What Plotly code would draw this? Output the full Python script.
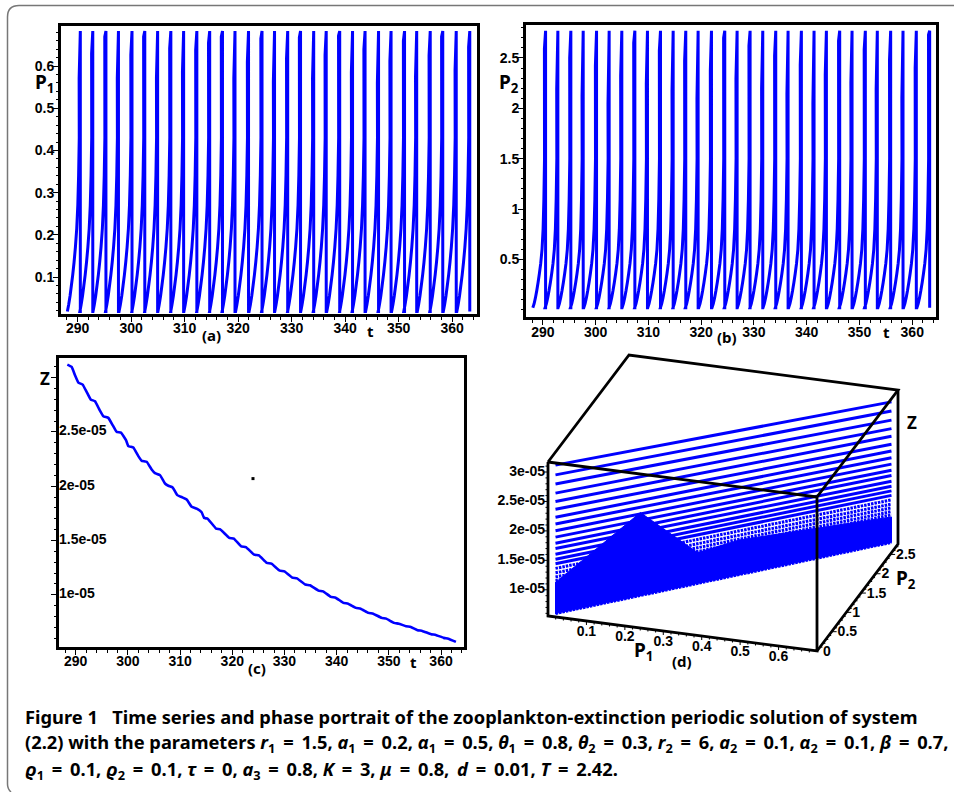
import numpy as np
import plotly.graph_objects as go

W, H = 954, 792
BLUE = "#0000ff"
TICKFONT = dict(family="Liberation Sans", size=14, color="black", weight="bold")
LABEL = "Noto Sans"

# ---- data ----
peak_t = [290.51, 292.84, 295.30, 297.64, 300.17, 302.56, 304.96, 307.43, 309.82, 312.29, 314.69,
          317.08, 319.42, 321.95, 324.47, 326.81, 329.27, 331.67, 334.13, 336.47, 338.99, 341.39,
          343.73, 346.25, 348.59, 351.11, 353.38, 355.91, 358.25, 360.77, 363.30]
# value at the last sample before each peak (the visible kink of every stripe)
p1_kink = [.571, .630, .670, .571, .626, .670, .571, .642, .587, .638, .655, .670, .571, .610, .665,
           .563, .618, .668, .571, .626, .672, .585, .640, .560, .612, .660, .575, .625, .670, .590, .645]
p2_kink = [2.59, 2.19, 2.50, 2.12, 2.42, 2.04, 2.32, 2.65, 2.24, 2.57, 2.17, 2.47, 2.09, 2.37, 2.70, 2.29,
           2.62, 2.20, 2.52, 2.14, 2.43, 2.05, 2.33, 2.67, 2.25, 2.58, 2.19, 2.48, 2.10, 2.40, 2.73]
# one period, read as time before the peak
cycle_before_peak = [2.42, 2.17, 1.92, 1.67, 1.42, 1.17, 0.92, 0.67, 0.47, 0.32, 0.20]
cycle_p1 = [0.018, 0.035, 0.055, 0.080, 0.105, 0.135, 0.170, 0.215, 0.270, 0.340, 0.430]
cycle_p2 = [0.020, 0.060, 0.120, 0.190, 0.270, 0.360, 0.460, 0.600, 0.800, 1.100, 1.500]
p1_peak, p2_peak = 0.683, 2.77

z_t = [288.40, 289.23, 289.87, 290.51, 291.34, 292.10, 292.87, 293.70, 294.53, 295.30, 296.25, 297.08,
       297.85, 298.68, 299.64, 300.08, 301.04, 302.00, 302.64, 303.60, 304.55, 305.19, 306.15, 307.11,
       307.75, 308.58, 309.47, 310.43, 311.26, 312.22, 313.18, 314.13, 314.60, 315.30, 316.90, 317.70,
       319.40, 320.30, 321.70, 322.60, 324.20, 325.10, 326.60, 327.50, 329.10, 330.00, 331.50, 332.40,
       334.00, 334.90, 336.50, 337.40, 338.90, 339.80, 341.30, 342.20, 343.70, 344.60, 346.10, 347.00,
       348.60, 349.50, 351.00, 351.90, 353.30, 354.20, 355.50, 356.40, 358.10, 359.00, 360.50, 361.40, 362.85]
z_v = [3.119, 3.098, 3.021, 2.954, 2.935, 2.868, 2.798, 2.782, 2.706, 2.644, 2.629, 2.562,
       2.500, 2.494, 2.424, 2.369, 2.356, 2.277, 2.234, 2.225, 2.154, 2.120, 2.102, 2.025,
       2.004, 1.989, 1.918, 1.897, 1.878, 1.811, 1.793, 1.760, 1.708, 1.700, 1.610, 1.602,
       1.525, 1.517, 1.447, 1.440, 1.370, 1.363, 1.294, 1.287, 1.223, 1.216, 1.159, 1.152,
       1.095, 1.088, 1.039, 1.032, 0.981, 0.974, 0.926, 0.919, 0.880, 0.873, 0.834, 0.827,
       0.788, 0.781, 0.742, 0.735, 0.711, 0.705, 0.675, 0.668, 0.638, 0.631, 0.604, 0.597, 0.567]
# Z at the start of the run and just after each peak (x 1e-5)
z_cycle = [3.119, 2.954, 2.798, 2.644, 2.500, 2.369, 2.234, 2.120, 2.004, 1.897, 1.793, 1.704, 1.605, 1.520,
           1.443, 1.366, 1.290, 1.219, 1.155, 1.091, 1.035, 0.977, 0.922, 0.876, 0.830, 0.784, 0.738, 0.708,
           0.671, 0.634, 0.600, 0.567]
# upper edge of the part of panel (d) where the trajectories merge, p1 and Z (x 1e-5)
dense_p1 = [.017, .186, .299, .383, .683, .683, .017]
dense_z = [1.12, 2.00, 1.11, 1.17, 1.00, .567, .600]
stray_t, stray_z = [323.97], [2.07]

p1_ticks = [0.1, 0.2, 0.3, 0.4, 0.5, 0.6]
p2_ticks = [0.5, 1, 1.5, 2, 2.5]
z_ticks = [1, 1.5, 2, 2.5, 3]
z_labels = ["1e-05", "1.5e-05", "2e-05", "2.5e-05", "3e-05"]
ZS = 1e-5


def px_x(v): return v / W
def px_y(v): return 1 - v / H


def series(kink, table, peak):
    xs, ys = [], []
    for tp, k in zip(peak_t, kink):
        for before, val in zip(cycle_before_peak, table):
            if val < k * 0.86:
                xs.append(tp - before); ys.append(val)
        xs += [tp - 0.22, tp, tp]
        ys += [k, peak, table[0]]
    return xs, ys


fig = go.Figure()

# panel a
x1, y1 = series(p1_kink, cycle_p1, p1_peak)
fig.add_trace(go.Scatter(x=x1, y=y1, mode="lines", line=dict(color=BLUE, width=3, simplify=False),
                         xaxis="x", yaxis="y"))
# panel b
x2, y2 = series(p2_kink, cycle_p2, p2_peak)
fig.add_trace(go.Scatter(x=x2, y=y2, mode="lines", line=dict(color=BLUE, width=3, simplify=False),
                         xaxis="x2", yaxis="y2"))
# panel c
fig.add_trace(go.Scatter(x=z_t, y=[v * ZS for v in z_v], mode="lines",
                         line=dict(color=BLUE, width=2.6, shape="spline", smoothing=0.3),
                         xaxis="x3", yaxis="y3"))
fig.add_trace(go.Scatter(x=stray_t, y=[v * ZS for v in stray_z], mode="markers",
                         marker=dict(color="black", size=3, symbol="square"), xaxis="x3", yaxis="y3"))
# tick labels of panel c sit inside the frame
fig.add_trace(go.Scatter(x=[286.8] * 4, y=[v * ZS for v in z_ticks[:4]], mode="text", text=z_labels[:4],
                         textposition="middle right", textfont=TICKFONT, xaxis="x3", yaxis="y3"))

# panel d: an oblique box projected on the page
P1R, P2R, ZR = (0.0, 0.70), (0.0, 2.77), (0.555, 3.17)
ORIGIN = np.array([548.0, 616.0])
V1, V2, V3 = np.array([269.0, 35.0]), np.array([81.0, -107.0]), np.array([0.0, -154.0])


def proj(p1, p2, z):
    s = ORIGIN + (p1 - P1R[0]) / (P1R[1] - P1R[0]) * V1 + (p2 - P2R[0]) / (P2R[1] - P2R[0]) * V2 \
        + (z - ZR[0]) / (ZR[1] - ZR[0]) * V3
    return s


def polyline(points):
    xs, ys = [], []
    for p in points:
        if p is None:
            xs.append(None); ys.append(None)
        else:
            xs.append(float(p[0])); ys.append(float(p[1]))
    return xs, ys


def traj(first, last):
    pts = []
    for k in range(first, last):
        pts.append(proj(cycle_p1[0], cycle_p2[0], z_cycle[k]))
        pts.append(proj(p1_peak, p2_peak, z_cycle[k + 1]))
        pts.append(None)
    return polyline(pts)


ratio = (p2_peak - cycle_p2[0]) / (p1_peak - cycle_p1[0])
fx, fy = polyline([proj(a, cycle_p2[0] + (a - cycle_p1[0]) * ratio, b) for a, b in zip(dense_p1, dense_z)])
fig.add_trace(go.Scatter(x=fx, y=fy, mode="lines", fill="toself", fillcolor=BLUE, line=dict(color=BLUE, width=1),
                         xaxis="x4", yaxis="y4"))
tx, ty = traj(0, 15)
fig.add_trace(go.Scatter(x=tx, y=ty, mode="lines", line=dict(color=BLUE, width=3), xaxis="x4", yaxis="y4"))
tx, ty = traj(15, 31)
fig.add_trace(go.Scatter(x=tx, y=ty, mode="lines", line=dict(color=BLUE, width=3, dash="2.5px,1px"),
                         xaxis="x4", yaxis="y4"))

c = lambda a, b, d: proj(P1R[a], P2R[b], ZR[d])
edges = [c(0, 0, 1), c(1, 0, 1), None, c(0, 0, 1), c(0, 1, 1), c(1, 1, 1), c(1, 0, 1), c(1, 0, 0), c(0, 0, 0),
         c(0, 0, 1), None, c(1, 1, 1), c(1, 1, 0), c(1, 0, 0)]
ex, ey = polyline(edges)
fig.add_trace(go.Scatter(x=ex, y=ey, mode="lines", line=dict(color="black", width=2.8), xaxis="x4", yaxis="y4"))

tick_pts = []
for v in np.arange(0.02, 0.70, 0.02):
    a = proj(v, P2R[0], ZR[0])
    L = 4 if abs(v * 10 - round(v * 10)) < 1e-6 else 2.5
    tick_pts += [a, a + np.array([0, L]), None]
for v in np.arange(0.1, 2.75, 0.1):
    a = proj(P1R[1], v, ZR[0])
    L = 5 if abs(v * 2 - round(v * 2)) < 1e-6 else 2.5
    tick_pts += [a, a + np.array([L, 0]), None]
for v in np.arange(0.6, 3.15, 0.1):
    a = proj(P1R[0], P2R[0], v)
    L = 4 if abs(v * 2 - round(v * 2)) < 1e-6 else 2.5
    tick_pts += [a, a - np.array([L, 0]), None]
kx, ky = polyline(tick_pts)
fig.add_trace(go.Scatter(x=kx, y=ky, mode="lines", line=dict(color="black", width=1), xaxis="x4", yaxis="y4"))


def text_trace(points, labels, position):
    xs, ys = polyline(points)
    fig.add_trace(go.Scatter(x=xs, y=ys, mode="text", text=labels, textposition=position,
                             textfont=TICKFONT, xaxis="x4", yaxis="y4"))


text_trace([proj(P1R[0], P2R[0], v) + np.array([-3, 0]) for v in z_ticks], z_labels, "middle left")
text_trace([proj(v, P2R[0], ZR[0]) + np.array([0, 4]) for v in p1_ticks], [str(v) for v in p1_ticks], "bottom center")
text_trace([proj(P1R[1], v, ZR[0]) + np.array([6, 1]) for v in [0] + p2_ticks],
           [str(v) for v in [0] + p2_ticks], "middle right")


def axis_common(domain, rng, dtick, tick0, minor, **kw):
    return dict(domain=domain, range=rng, dtick=dtick, tick0=tick0, showgrid=False, zeroline=False, showline=True,
                linecolor="black", linewidth=3, mirror=True, ticks="outside", ticklen=5, tickwidth=1,
                tickcolor="black", tickfont=TICKFONT,
                minor=dict(dtick=minor, tick0=tick0, ticks="outside", ticklen=2.5, tickwidth=1, tickcolor="black",
                           showgrid=False), **kw)


def dom_x(a, b): return [px_x(a), px_x(b)]
def dom_y(top, bottom): return [px_y(bottom), px_y(top)]


layout = dict(
    width=W, height=H, autosize=False, margin=dict(l=0, r=0, t=0, b=0), showlegend=False,
    paper_bgcolor="white", plot_bgcolor="rgba(0,0,0,0)",
    xaxis=axis_common(dom_x(61, 477), [286.9, 364.65], 10, 290, 2, anchor="y", ticklabelstandoff=-6),
    yaxis=axis_common(dom_y(26, 314), [0.0123, 0.695], 0.1, 0.1, 0.02, anchor="x", ticklabelstandoff=-4),
    xaxis2=axis_common(dom_x(526, 936), [286.8, 364.5], 10, 290, 2, anchor="y2", ticklabelstandoff=-5),
    yaxis2=axis_common(dom_y(25, 317), [-0.072, 2.827], 0.5, 0.5, 0.1, anchor="x2", ticklabelstandoff=-4),
    xaxis3=axis_common(dom_x(59, 464), [286.8, 364.4], 10, 290, 2, anchor="y3", ticklabelstandoff=-6),
    yaxis3=dict(axis_common(dom_y(358, 647), [0.52e-5, 3.18e-5], 5e-6, 1e-5, 1e-6, anchor="x3"),
                tickmode="array", tickvals=[v * ZS for v in z_ticks], showticklabels=False),
    xaxis4=dict(domain=[0, 1], range=[0, W], visible=False, anchor="y4"),
    yaxis4=dict(domain=[0, 1], range=[H, 0], visible=False, anchor="x4"),
)
layout["yaxis2"].update(tickmode="array", tickvals=p2_ticks, ticktext=["0.5", "1", "1.5", "2", "2.5"])
fig.update_layout(**layout)

# card outline
fig.add_shape(type="path", xref="paper", yref="paper", layer="below",
              path=f"M {px_x(954)} {px_y(5.5)} L {px_x(19)} {px_y(5.5)} Q {px_x(7.5)} {px_y(5.5)} {px_x(7.5)} {px_y(17)} "
                   f"L {px_x(7.5)} {px_y(784)} Q {px_x(7.5)} {px_y(789)} {px_x(11)} {px_y(792)}",
              line=dict(color="#777777", width=1.5))


def note(x, y, text, size, family=LABEL, weight="bold", anchor="center"):
    fig.add_annotation(xref="paper", yref="paper", x=px_x(x), y=px_y(y), text=text, showarrow=False, xanchor=anchor,
                       yanchor="middle", align="left", borderpad=0,
                       font=dict(family=family, size=size, color="black", weight=weight))


for x, y, t in [(44, 83, "P<sub>1</sub>"), (509, 83, "P<sub>2</sub>"), (643, 651, "P<sub>1</sub>"),
                (906, 579, "P<sub>2</sub>")]:
    note(x, y, t, 19)
for x, y, t in [(45, 378, "Z"), (912, 422, "Z")]:
    note(x, y, t, 17)
for x, y, t in [(211, 335, "(a)"), (727, 337, "(b)"), (257, 668, "(c)"), (682, 661, "(d)"),
                (370, 331, "t"), (886, 332, "t"), (413, 662, "t")]:
    note(x, y, t, 15)

CAP = 18.3
TH = "\u2009"
EQ = f"{TH}={TH}"
note(24, 716, "Figure 1&#160;&#160;&#160;Time series and phase portrait of the zooplankton-extinction periodic solution of system",
     CAP, anchor="left")
note(24, 743, f"(2.2) with the parameters <i>r</i><sub>1</sub> {EQ} 1.5, <i>a</i><sub>1</sub> {EQ} 0.2, <i>α</i><sub>1</sub> {EQ} 0.5, "
     f"<i>θ</i><sub>1</sub> {EQ} 0.8, <i>θ</i><sub>2</sub> {EQ} 0.3, <i>r</i><sub>2</sub> {EQ} 6, <i>a</i><sub>2</sub> {EQ} 0.1, "
     f"<i>α</i><sub>2</sub> {EQ} 0.1, <i>β</i> {EQ} 0.7,", CAP, anchor="left")
note(24, 770, f"<i>ϱ</i><sub>1</sub> {EQ} 0.1, <i>ϱ</i><sub>2</sub> {EQ} 0.1, <i>τ</i> {EQ} 0, <i>a</i><sub>3</sub> {EQ} 0.8, "
     f"<i>K</i> {EQ} 3, <i>μ</i> {EQ} 0.8,{TH} <i>d</i> {EQ} 0.01, <i>T</i> {EQ} 2.42.", CAP, anchor="left")

fig.write_html("out.html", config=dict(displayModeBar=False),
               post_script="document.body.style.margin='0';document.body.style.overflow='hidden';")
